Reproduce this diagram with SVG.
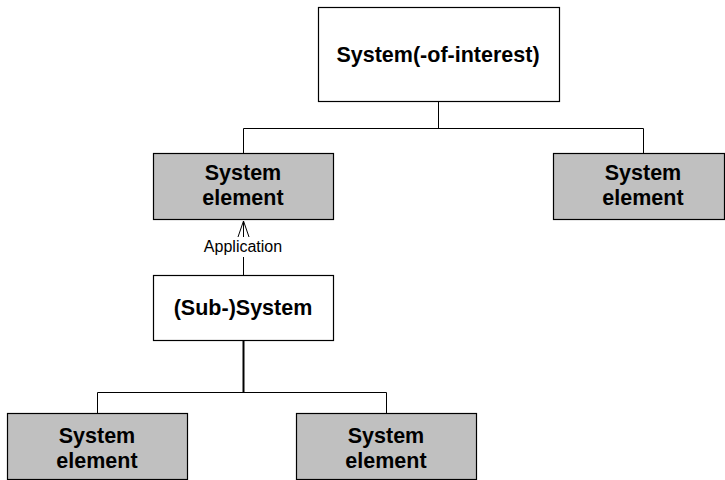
<svg xmlns="http://www.w3.org/2000/svg" width="725" height="480" viewBox="0 0 725 480">
<style>
.box{stroke:#000;stroke-width:1.2}
.white{fill:#fff}
.grey{fill:#c0c0c0}
.lbl{font-family:"Liberation Sans",Arial,sans-serif;font-weight:bold;font-size:21.5px;text-anchor:middle;fill:#000}
.small{font-family:"Liberation Sans",Arial,sans-serif;font-size:16px;text-anchor:middle;fill:#000}
.conn{stroke:#000;stroke-width:1;fill:none}
</style>
<rect width="725" height="480" fill="#fff"/>
<g id="connectors">
<path class="conn" d="M438.5,101 V128.5 M243.5,128.5 H643.5 M243.5,128.5 V153 M643.5,128.5 V153"/>
<path class="conn" d="M243.5,257 V275"/>
<path class="conn" d="M243.5,221 L238,237 M243.5,221 L249,237 M243.5,221 V237"/>
<path d="M243.5,340 V392" stroke="#000" stroke-width="2" fill="none"/>
<path class="conn" d="M97.5,392.5 H386.5 M97.5,392.5 V413 M386.5,392.5 V413"/>
<text class="small" x="243" y="252">Application</text>
</g>
<g id="soi">
<rect class="box white" x="318.5" y="7.5" width="241" height="94"/>
<text class="lbl" x="438" y="62">System(-of-interest)</text>
</g>
<g id="se1">
<rect class="box grey" x="153.5" y="153.5" width="180" height="66"/>
<text class="lbl" x="243" y="180">System</text>
<text class="lbl" x="243" y="205">element</text>
</g>
<g id="se2">
<rect class="box grey" x="553.5" y="153.5" width="171" height="66"/>
<text class="lbl" x="643" y="180">System</text>
<text class="lbl" x="643" y="205">element</text>
</g>
<g id="subsystem">
<rect class="box white" x="153.5" y="275.5" width="180" height="65"/>
<text class="lbl" x="243" y="315">(Sub-)System</text>
</g>
<g id="se3">
<rect class="box grey" x="7.5" y="413.5" width="180" height="66"/>
<text class="lbl" x="97" y="443">System</text>
<text class="lbl" x="97" y="468">element</text>
</g>
<g id="se4">
<rect class="box grey" x="296.5" y="413.5" width="180" height="66"/>
<text class="lbl" x="386" y="443">System</text>
<text class="lbl" x="386" y="468">element</text>
</g>
</svg>
